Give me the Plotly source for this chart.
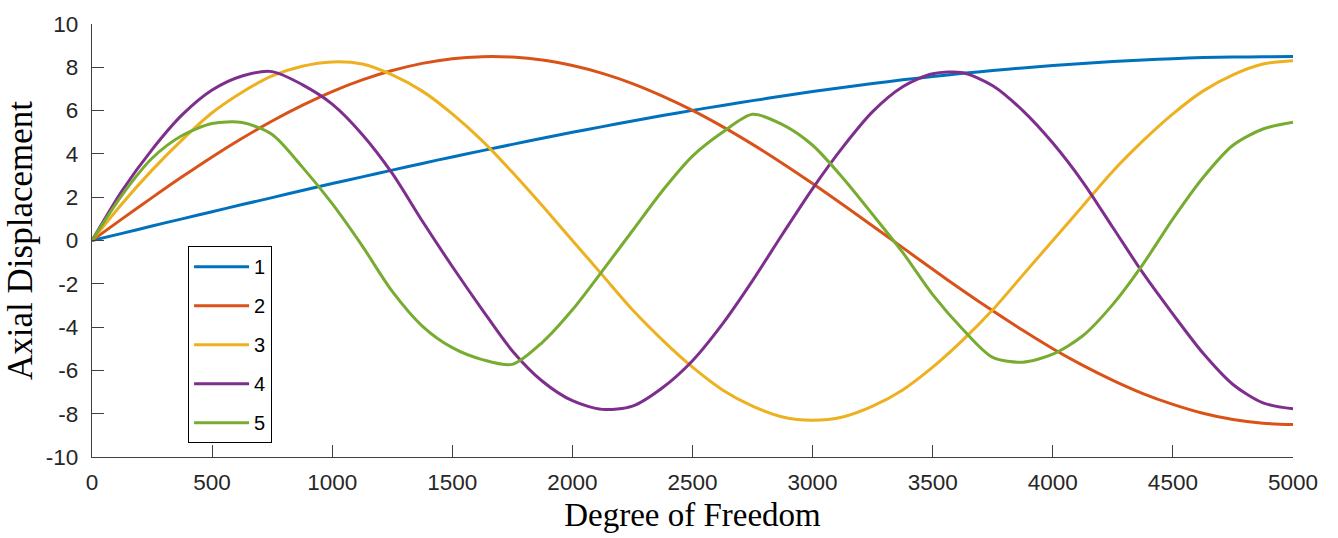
import plotly.graph_objects as go

# Degree-of-freedom positions along the bar
dof = [0, 125, 250, 375, 500, 625, 750, 875, 1000, 1125, 1250, 1375, 1500, 1625,
       1750, 1875, 2000, 2125, 2250, 2375, 2500, 2625, 2750, 2875, 3000, 3125,
       3250, 3375, 3500, 3625, 3750, 3875, 4000, 4125, 4250, 4375, 4500, 4625,
       4750, 4875, 5000]

# Axial displacement of the first five modes
mode_1 = [0, 0.33, 0.67, 1.0, 1.33, 1.66, 1.98, 2.31, 2.63, 2.94, 3.25, 3.56,
          3.86, 4.15, 4.44, 4.72, 5.0, 5.26, 5.52, 5.77, 6.01, 6.24, 6.46, 6.67,
          6.88, 7.07, 7.25, 7.42, 7.57, 7.72, 7.85, 7.97, 8.08, 8.18, 8.27, 8.34,
          8.4, 8.45, 8.47, 8.49, 8.5]
mode_2 = [0, 1.0, 1.98, 2.94, 3.86, 4.72, 5.52, 6.24, 6.88, 7.42, 7.85, 8.18,
          8.4, 8.49, 8.47, 8.34, 8.08, 7.72, 7.25, 6.67, 6.01, 5.26, 4.44, 3.56,
          2.63, 1.66, 0.67, -0.33, -1.33, -2.31, -3.25, -4.15, -5.0, -5.77, -6.46,
          -7.07, -7.57, -7.98, -8.27, -8.44, -8.5]
mode_3 = [0, 1.7, 3.25, 4.65, 5.9, 6.85, 7.6, 8.05, 8.25, 8.15, 7.65, 6.9,
          5.85, 4.6, 3.15, 1.6, 0, -1.6, -3.2, -4.6, -5.85, -6.9, -7.65, -8.15,
          -8.3, -8.15, -7.65, -6.9, -5.85, -4.6, -3.2, -1.6, 0, 1.6, 3.2, 4.6,
          5.85, 6.9, 7.65, 8.15, 8.3]
mode_4 = [0, 2.3, 4.2, 5.8, 6.95, 7.6, 7.8, 7.2, 6.3, 4.9, 3.1, 0.9, -1.2,
          -3.2, -5.1, -6.5, -7.4, -7.8, -7.65, -6.8, -5.55, -3.85, -1.85, 0.3,
          2.4, 4.3, 5.95, 7.1, 7.7, 7.75, 7.15, 6.0, 4.5, 2.7, 0.6, -1.5, -3.4,
          -5.2, -6.65, -7.5, -7.77]
mode_5 = [0, 2.1, 3.8, 4.85, 5.4, 5.45, 4.9, 3.4, 1.7, -0.25, -2.35, -3.95,
          -4.95, -5.5, -5.72, -4.7, -3.2, -1.4, 0.45, 2.3, 3.9, 5.0, 5.83, 5.35,
          4.4, 2.9, 1.2, -0.55, -2.5, -4.1, -5.4, -5.62, -5.25, -4.4, -2.95, -1.1,
          1.0, 2.9, 4.4, 5.15, 5.46]

modes = [("1", mode_1), ("2", mode_2), ("3", mode_3), ("4", mode_4), ("5", mode_5)]
colors = ["#0072BD", "#D95319", "#EDB120", "#7E2F8E", "#77AC30"]

x_ticks = list(range(0, 5001, 500))
y_ticks = list(range(-10, 11, 2))

axis_color = "#404040"
tick_font = dict(family="Liberation Sans, Arial, sans-serif", size=22.5, color="#262626")
serif = "Liberation Serif, Times New Roman, serif"

fig = go.Figure()
for (name, values), color in zip(modes, colors):
    fig.add_trace(go.Scatter(
        x=dof, y=values, name=name, mode="lines",
        line=dict(color=color, width=3, shape="spline", smoothing=0.8),
        legendgroup=name,
    ))

fig.update_layout(
    width=1338, height=538,
    margin=dict(l=92, r=45, t=22, b=80),
    paper_bgcolor="white", plot_bgcolor="white",
    showlegend=True,
    legend=dict(
        x=0.08, y=0.487, xanchor="left", yanchor="top",
        bgcolor="white", bordercolor="#000000", borderwidth=1,
        font=dict(family="Liberation Sans, Arial, sans-serif", size=20, color="#000000"),
        tracegroupgap=10, itemwidth=55,
    ),
    xaxis=dict(
        range=[0, 5000], tickvals=x_ticks, ticktext=[str(v) for v in x_ticks],
        showgrid=False, zeroline=False, showline=True, linecolor=axis_color, linewidth=1.3,
        ticks="inside", ticklen=12, tickcolor=axis_color, tickwidth=1,
        tickfont=tick_font, ticklabelstandoff=5,
        title=dict(text="Degree of Freedom", font=dict(family=serif, size=33, color="#000000"),
                   standoff=8),
    ),
    yaxis=dict(
        range=[-10, 10], tickvals=y_ticks, ticktext=[str(v) for v in y_ticks],
        showgrid=False, zeroline=False, showline=True, linecolor=axis_color, linewidth=1.3,
        ticks="inside", ticklen=12, tickcolor=axis_color, tickwidth=1,
        tickfont=tick_font, ticklabelstandoff=8,
        title=dict(text="Axial Displacement", font=dict(family=serif, size=35, color="#000000"),
                   standoff=2),
    ),
)

fig.write_html("out.html")
